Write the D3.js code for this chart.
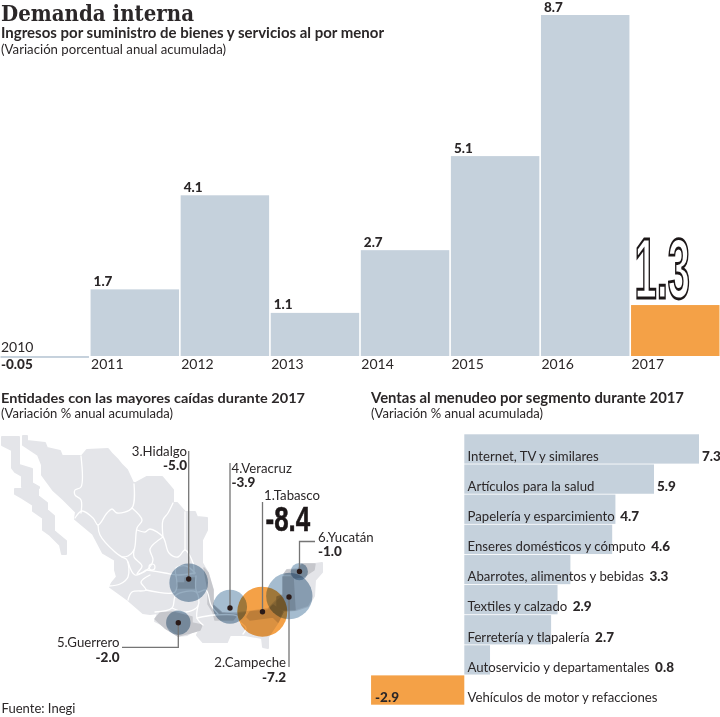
<!DOCTYPE html>
<html><head><meta charset="utf-8">
<script src="https://cdn.jsdelivr.net/npm/d3@7"></script>
<style>
html,body{margin:0;padding:0;background:#fff}
svg{display:block;isolation:isolate}
text{font-family:Lato,"Open Sans",sans-serif;fill:#2b2728}
</style></head><body><div id="c"></div>
<script>
// ---- Data ----
const years=["2010","2011","2012","2013","2014","2015","2016","2017"];
const yearValues=[-0.05,1.7,4.1,1.1,2.7,5.1,8.7,1.3];
const yearLabels=["-0.05","1.7","4.1","1.1","2.7","5.1","8.7","1.3"];
const segments=["Internet, TV y similares","Artículos para la salud","Papelería y esparcimiento","Enseres domésticos y cómputo","Abarrotes, alimentos y bebidas","Textiles y calzado","Ferretería y tlapalería","Autoservicio y departamentales","Vehículos de motor y refacciones"];
const segmentValues=[7.3,5.9,4.7,4.6,3.3,2.9,2.7,0.8,-2.9];
const entityNames=["1.Tabasco","2.Campeche","3.Hidalgo","4.Veracruz","5.Guerrero","6.Yucatán"];
const entityValues=[-8.4,-7.2,-5.0,-3.9,-2.0,-1.0];
const entityLabels=["-8.4","-7.2","-5.0","-3.9","-2.0","-1.0"];
// map-space location of each entity's bubble centre and marker dot
const entityCentres=[[262.3,611.7],[289.3,596],[188.7,582.7],[230,606.7],[178.3,622.7],[299.3,571.7]];
const entityDots=[[262.5,611.7],[289,597],[188.7,579],[230,608],[178.3,622.7],[299.5,571.5]];
// land outlines (map space)
const landOutlines=[
[[2,437],[19,437],[19,465],[32,469],[32,483],[39,487],[39,488],[22,487],[22,476],[15,472],[12,468],[12,450],[2,445]],
[[15,489],[38,489],[38,496],[47,503],[47,510],[54,516],[54,531],[60,536],[66,541],[66,554],[62,554],[60,545],[50,535],[43,530],[43,518],[33,511],[33,505],[22,498],[15,494]],
[[23,436],[27,436],[27,441],[45,443],[47,448],[60,451],[62,456],[82,456],[87,450],[108,449],[112,454],[118,460],[122,465],[127,470],[133,483],[136,483],[147,477],[162,477],[173,490],[173,503],[177,503],[185,512],[195,512],[197,517],[207,518],[207,530],[202,540],[202,563],[208,573],[213,590],[213,605],[222,613],[237,613],[247,612],[268,609],[273,604],[277,600],[283,595],[283,577],[287,570],[298,569],[302,564],[315,564],[322,563],[322,572],[315,580],[314,596],[308,606],[296,610],[283,611],[278,622],[268,637],[268,648],[263,647],[262,638],[245,635],[230,635],[227,642],[203,642],[197,635],[200,629],[192,632],[187,635],[178,636],[167,627],[155,621],[158,613],[150,614],[143,613],[128,600],[110,587],[112,583],[117,577],[115,570],[115,560],[103,553],[93,534],[75,519],[76,512],[63,499],[53,490],[42,475],[42,465],[38,455],[23,445]]
];
// darker highlighted state outlines (map space)
const statesDark=[
[[155,619],[160,613],[172,612],[192,617],[192,623],[202,625],[200,630],[190,633],[178,636],[165,628]],
[[247,617],[250,612],[268,610],[273,605],[283,612],[278,622],[273,617],[250,620]],
[[204,568],[208,573],[213,590],[213,605],[222,613],[237,615],[233,620],[215,620],[213,612],[208,604],[208,590]],
[[277,597],[283,595],[283,577],[293,577],[295,610],[283,610],[277,607]],
[[284,574],[287,570],[298,570],[302,564],[315,564],[314,570],[305,576],[295,578],[290,574]],
[[177,583],[185,583],[185,578],[195,578],[195,588],[177,588]]
];
// state borders (map space)
const borders=[
[[81,456],[81,487],[75,490],[75,495],[81,500],[81,513]],
[[75,518],[82,511],[93,518],[98,525],[107,513],[112,509],[117,513],[132,508],[134,484]],
[[98,525],[100,535],[115,552],[122,557],[127,560],[128,577],[120,584],[109,586]],
[[132,508],[142,520],[137,528],[134,550],[128,556],[122,557]],
[[137,530],[145,532],[150,529],[163,537],[169,553],[178,557],[185,550],[193,563],[194,574]],
[[173,503],[168,513],[163,520],[163,537]],
[[185,512],[185,550]],
[[163,537],[150,549],[153,560],[147,570],[137,574],[142,566],[134,557],[134,550]],
[[128,562],[135,575],[146,570]],
[[147,570],[165,573],[178,575],[195,573]],
[[150,575],[141,582],[146,590],[132,592],[128,600]],
[[146,590],[175,592],[176,575]],
[[155,612],[172,608],[176,595],[196,592],[198,606],[186,612],[172,608]],
[[196,576],[197,592],[206,590],[211,605],[218,614]],
[[197,618],[215,615],[237,616],[240,622],[246,628],[243,634]],
[[203,625],[197,618],[198,606]],
[[176,576],[176,568],[186,566],[195,573]]
];
const ringCentres=[[152,567]];

// ---- Setup ----
const C={bar:"#c5d1dc",orange:"#f4a147",land:"#e4e5e9",dark:"#c6c7cc",bubble:"#a5bccf",landShade:"#eaecee",line:"#757575",dot:"#2a1a18"};
const svg=d3.select("#c").append("svg").attr("width",720).attr("height",717);
const T=(x,y,s,o={})=>{const t=svg.append("text").attr("x",x).attr("y",y).text(s)
  .style("font-size",(o.size||13)+"px").style("font-weight",o.w||400)
  .attr("text-anchor",o.a||"start").style("font-family",o.f||null);
  if(o.len)t.attr("textLength",o.len).attr("lengthAdjust","spacingAndGlyphs");
  return t;};

// headings
T(1,21,"Demanda interna",{size:22.5,w:700,f:'"DejaVu Serif Condensed","DejaVu Serif",serif',len:193});
T(1,38,"Ingresos por suministro de bienes y servicios al por menor",{size:15,w:700,len:383});
T(1,54,"(Variación porcentual anual acumulada)",{size:13,len:225});
T(1,403,"Entidades con las mayores caídas durante 2017",{size:14,w:700,len:304});
T(1,418,"(Variación % anual acumulada)",{size:12.5,len:172});
T(371,403,"Ventas al menudeo por segmento durante 2017",{size:14.5,w:700,len:313});
T(371,418,"(Variación % anual acumulada)",{size:12.5,len:172});
T(1.5,713,"Fuente: Inegi",{size:13,len:74});

// ---- Top bars ----
const x=d3.scaleBand().domain(years).range([0.5,719.5]).paddingInner(0.018);
const y=d3.scaleLinear().domain([0,8.7]).range([356,15]);
svg.append("g").selectAll("rect").data(years).join("rect")
  .attr("x",d=>x(d)).attr("width",x.bandwidth())
  .attr("y",(d,i)=>y(Math.max(0,yearValues[i])))
  .attr("height",(d,i)=>Math.abs(y(yearValues[i])-y(0)))
  .attr("fill",d=>d==="2017"?C.orange:C.bar);
years.forEach((d,i)=>{
  const X=x(d);
  if(d==="2010"){T(X+0.5,352,d,{size:14});T(X+0.5,368.5,yearLabels[i],{size:13.5,w:900});return;}
  T(X+0.5,368.5,d,{size:14});
  if(d==="2017"){
    svg.append("text").text(yearLabels[i]).attr("transform",`translate(${X+3.5},297.5) scale(0.47,1)`)
      .style("font-family",'"Liberation Sans Narrow","Liberation Sans",sans-serif').style("font-weight",700).style("font-size","85px")
      .style("fill","#fff").style("stroke","#1c1718").style("stroke-width","2.2px").style("stroke-linejoin","miter")
      .attr("vector-effect","non-scaling-stroke");
    return;
  }
  T(X+3,y(yearValues[i])-3.5,yearLabels[i],{size:13.5,w:900});
});

// ---- Map ----
const mx=d3.scaleLinear().domain([0,320]).range([0,320]);
const my=d3.scaleLinear().domain([430,650]).range([430,650]);
const path=d3.line().x(d=>mx(d[0])).y(d=>my(d[1])).curve(d3.curveLinearClosed);
const borderPath=d3.line().x(d=>mx(d[0])).y(d=>my(d[1])).curve(d3.curveCatmullRom.alpha(0.5));
const gMap=svg.append("g");
gMap.selectAll("path.l").data(landOutlines).join("path").attr("class","l").attr("d",path)
  .attr("fill",C.land).attr("stroke",C.land).attr("stroke-width",2).attr("stroke-linejoin","round");
gMap.selectAll("path.d").data(statesDark).join("path").attr("class","d").attr("d",path)
  .attr("fill",C.dark).attr("stroke",C.dark).attr("stroke-width",1.5).attr("stroke-linejoin","round");
gMap.selectAll("path.s").data(borders).join("path").attr("class","s").attr("d",borderPath)
  .attr("fill","none").attr("stroke","#fff").attr("stroke-width",1.3).attr("stroke-linecap","round");
gMap.selectAll("circle.ring").data(ringCentres).join("circle").attr("class","ring")
  .attr("cx",d=>mx(d[0])).attr("cy",d=>my(d[1])).attr("r",3).attr("fill","none").attr("stroke","#fff").attr("stroke-width",1.2);

const r=d3.scaleSqrt().domain([0,8.4]).range([0,25]);
const bubbleOrder=[2,3,4,1,5,0];
const clip=svg.append("clipPath").attr("id","landClip");
clip.selectAll("path").data(landOutlines).join("path").attr("d",path);
gMap.selectAll("circle.b").data(bubbleOrder).join("circle").attr("class","b")
  .attr("cx",i=>mx(entityCentres[i][0])).attr("cy",i=>my(entityCentres[i][1]))
  .attr("r",i=>r(Math.abs(entityValues[i])))
  .attr("fill",i=>i===0?C.orange:C.bubble).style("mix-blend-mode","multiply");
gMap.append("g").attr("clip-path","url(#landClip)").style("mix-blend-mode","multiply")
  .selectAll("circle").data(bubbleOrder.filter(i=>i!==0)).join("circle")
  .attr("cx",i=>mx(entityCentres[i][0])).attr("cy",i=>my(entityCentres[i][1]))
  .attr("r",i=>r(Math.abs(entityValues[i])))
  .attr("fill",C.landShade);

// leaders: each runs from the dot to the label anchor
const leaders=[
 [[262.5,502]],
 [[289,667]],
 [[188.7,451]],
 [[230,463]],
 [[178.3,647.3],[122,647.3]],
 [[299.5,541.5],[315,541.5]]
];
const leader=d3.line().x(d=>mx(d[0])).y(d=>my(d[1]));
leaders.forEach((pts,i)=>{
  gMap.append("path").attr("d",leader([entityDots[i],...pts])).attr("fill","none").attr("stroke",C.line).attr("stroke-width",1.3);
});
gMap.selectAll("circle.k").data(entityDots).join("circle").attr("class","k")
  .attr("cx",d=>mx(d[0])).attr("cy",d=>my(d[1])).attr("r",2.7).attr("fill",C.dot);

const labelPos=[[264,500,"start"],[286,667,"end"],[187,456,"end"],[231.5,473.3,"start"],[119.5,647,"end"],[318,541.7,"start"]];
const valuePos=[null,[286,681.6,"end"],[187,470,"end"],[231.5,486.7,"start"],[119.5,661.7,"end"],[318,556,"start"]];
entityNames.forEach((n,i)=>{
  const [a,b,c]=labelPos[i];
  T(a,b,n,{size:13.2,a:c});
  if(valuePos[i]){const [p,q,s]=valuePos[i];T(p,q,entityLabels[i],{size:13.5,w:900,a:s});}
});
svg.append("text").text(entityLabels[0]).attr("transform","translate(265.5,531) scale(0.72,1)")
  .style("font-family",'"Liberation Sans Narrow","Liberation Sans",sans-serif').style("font-weight",700).style("font-size","36px")
  .style("fill","#1c1718").style("stroke","#1c1718").style("stroke-width","0.6px");

// ---- Lower bars ----
const hx=d3.scaleLinear().domain([0,7.3]).range([464.3,699]);
const hy=d3.scaleBand().domain(segments).range([434.3,704.7]).paddingInner(0.027);
svg.append("g").selectAll("rect").data(segments).join("rect")
  .attr("x",(d,i)=>hx(Math.min(0,segmentValues[i])))
  .attr("width",(d,i)=>Math.abs(hx(segmentValues[i])-hx(0)))
  .attr("y",d=>hy(d)).attr("height",hy.bandwidth())
  .attr("fill",(d,i)=>segmentValues[i]<0?C.orange:C.bar);
segments.forEach((s,i)=>{
  const b=hy(s)+hy.bandwidth()-2.8;
  const t=T(467.5,b,s,{size:13.2});
  const end=467.5+t.node().getComputedTextLength();
  const v=segmentValues[i];
  if(v<0){T(hx(v)+4,b,v.toFixed(1),{size:13.5,w:900});}
  else T(Math.max(hx(v)+3,end+5.5),b,v.toFixed(1),{size:13.5,w:900});
});
</script></body></html>
